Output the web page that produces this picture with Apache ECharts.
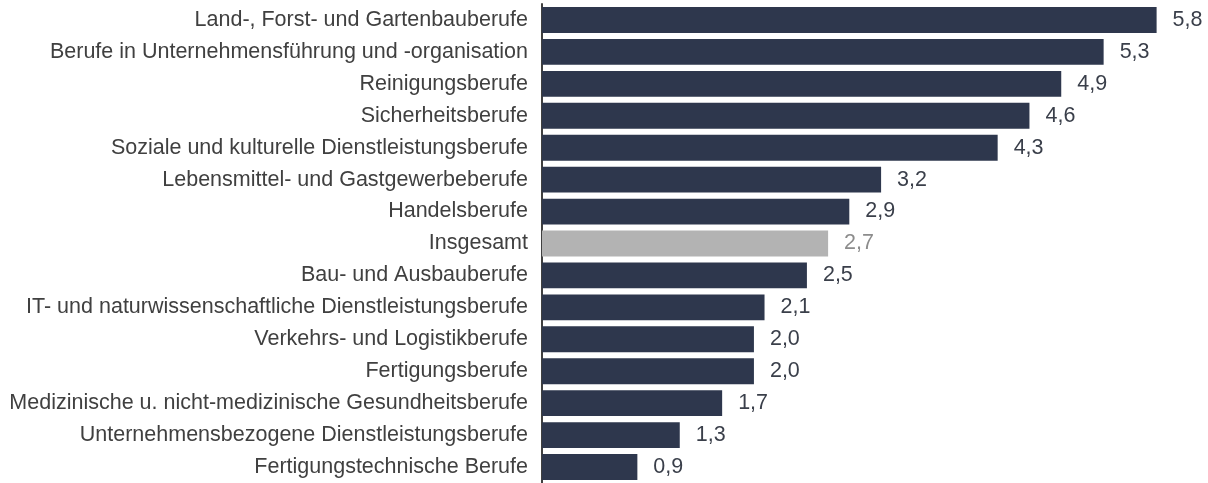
<!DOCTYPE html>
<html>
<head>
<meta charset="utf-8">
<script src="https://cdn.jsdelivr.net/npm/echarts@6/dist/echarts.min.js"></script>
<style>
  html, body { margin: 0; padding: 0; background: #fff; }
  #chart { width: 1208px; height: 483px; }
</style>
</head>
<body>
<div id="chart"></div>
<script>
var categories = [
  'Land-, Forst- und Gartenbauberufe',
  'Berufe in Unternehmensführung und -organisation',
  'Reinigungsberufe',
  'Sicherheitsberufe',
  'Soziale und kulturelle Dienstleistungsberufe',
  'Lebensmittel- und Gastgewerbeberufe',
  'Handelsberufe',
  'Insgesamt',
  'Bau- und Ausbauberufe',
  'IT- und naturwissenschaftliche Dienstleistungsberufe',
  'Verkehrs- und Logistikberufe',
  'Fertigungsberufe',
  'Medizinische u. nicht-medizinische Gesundheitsberufe',
  'Unternehmensbezogene Dienstleistungsberufe',
  'Fertigungstechnische Berufe'
]
var values = [5.8, 5.3, 4.9, 4.6, 4.3, 3.2, 2.9, 2.7, 2.5, 2.1, 2.0, 2.0, 1.7, 1.3, 0.9]
var highlight = 'Insgesamt'

var chart = echarts.init(document.getElementById('chart'))

var barData = values.map(function (v, i) {
  var isTotal = categories[i] === highlight
  return {
    value: v,
    itemStyle: { color: isTotal ? '#b3b3b3' : '#2e374d' },
    label: { color: isTotal ? '#8c8c8c' : '#3a3f4a' }
  }
})

chart.setOption({
  animation: false,
  grid: { left: 542, top: 4, width: 657, height: 483 },
  xAxis: {
    type: 'value',
    min: 0,
    max: 6.2,
    show: false
  },
  yAxis: {
    type: 'category',
    data: categories,
    inverse: true,
    axisLine: { show: true, lineStyle: { color: '#404040', width: 2 } },
    axisTick: { show: false },
    axisLabel: {
      margin: 14,
      fontFamily: 'Liberation Sans, Arial, sans-serif',
      fontSize: 21.5,
      color: '#404040'
    }
  },
  series: [{
    type: 'bar',
    data: barData,
    barCategoryGap: '19%',
    label: {
      show: true,
      position: 'right',
      distance: 16,
      fontFamily: 'Liberation Sans, Arial, sans-serif',
      fontSize: 21.5,
      formatter: function (p) { return p.value.toFixed(1).replace('.', ',') }
    }
  }]
})
</script>
</body>
</html>
